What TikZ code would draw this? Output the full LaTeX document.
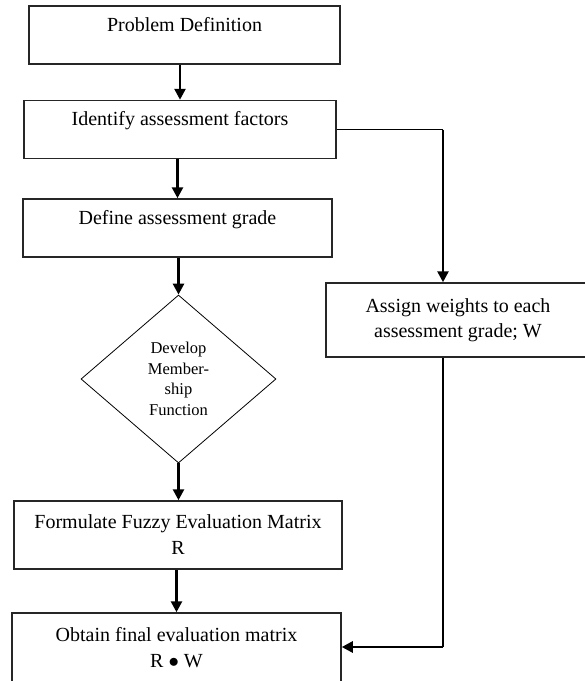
\documentclass[tikz,border=0pt]{standalone}
\usepackage{fontspec}
\setmainfont{Liberation Serif}
\usetikzlibrary{shapes.geometric,arrows.meta}
\tikzset{
  box/.style={draw=black!85, line width=1.5pt, inner sep=0pt, font=\fontsize{20}{26}\selectfont},
  onebox/.style={box, text height=25pt, text depth=33pt},
  twobox/.style={box, align=center},
  decision/.style={draw, diamond, line width=0.8pt, inner sep=0pt, align=center,
    font=\fontsize{16.5}{20.5}\selectfont, minimum width=195pt, minimum height=168pt},
  arrow/.style={line width=2.6pt, -{Triangle[width=11pt,length=11pt]}},
  thinline/.style={line width=1.5pt}
}
\begin{document}
\begin{tikzpicture}[x=1pt,y=-1pt]
    \path[use as bounding box, clip] (0,0) rectangle (585,681);
    % main column
    \node[onebox, minimum width=311pt] (def) at (184.5,35) {Problem Definition};
    \node[onebox, minimum width=312pt] (ident) at (180,129.5) {Identify assessment factors};
    \node[onebox, minimum width=309pt] (grade) at (177.5,228) {Define assessment grade};
    \node[decision] (dia) at (178.5,379) {Develop\\Member-\\ship\\Function};
    \node[twobox, minimum width=328pt, minimum height=68pt] (fuzzy) at (178,535) {Formulate Fuzzy Evaluation Matrix\\R};
    \node[twobox, minimum width=329pt, minimum height=69pt] (final) at (176.5,647.5) {Obtain final evaluation matrix\\R $\bullet$ W};
    % side branch
    \node[twobox, minimum width=264pt, minimum height=74pt, font=\fontsize{20}{25}\selectfont] (weights) at (458,320) {Assign weights to each\\assessment grade; W};
    \draw[arrow] (ident.north |- def.south) -- (ident.north);
    \draw[arrow] (grade.north |- ident.south) -- (grade.north);
    \draw[arrow] (dia.north |- grade.south) -- (dia.north);
    \draw[arrow] (dia.south) -- (dia.south |- fuzzy.north);
    \draw[arrow] (final.north |- fuzzy.south) -- (final.north);
    \coordinate (c1) at (443,129.5);
    \coordinate (c2) at (443,647);
    \draw[thinline] (ident.east) -- (c1);
    \draw[arrow] (c1) -- (c1 |- weights.north);
    \draw[thinline] (c1 |- weights.south) -- (c2);
    \draw[arrow] (c2) -- (final.east |- c2);
\end{tikzpicture}
\end{document}
